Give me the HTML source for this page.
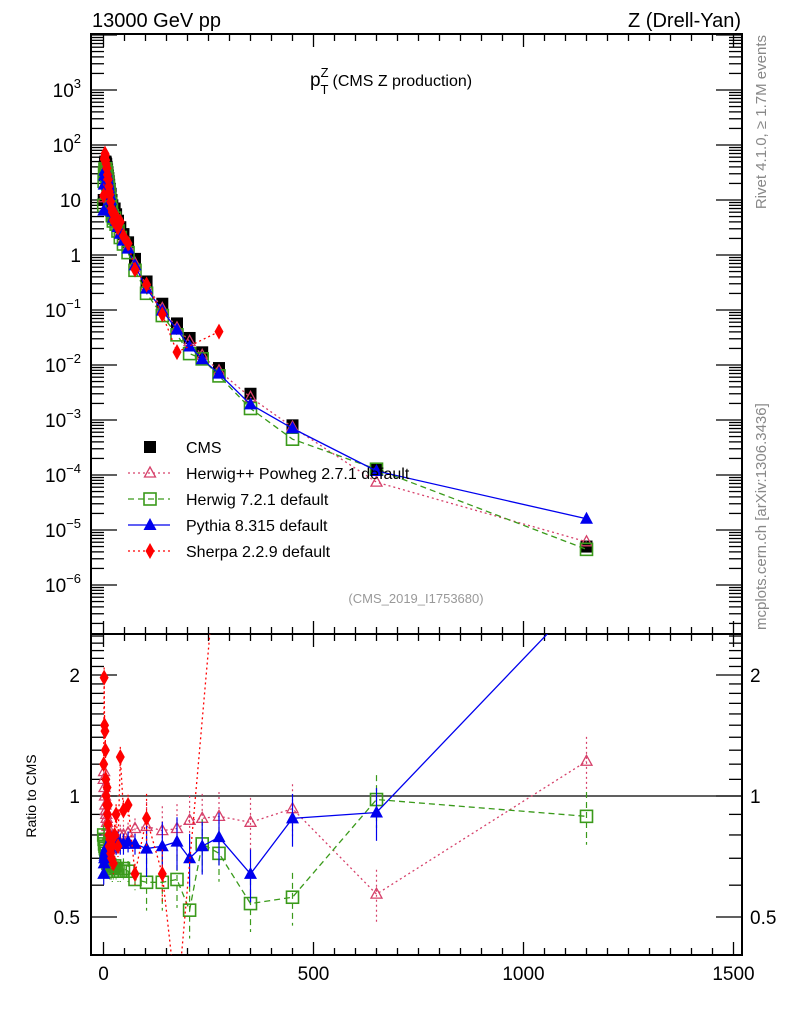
<!DOCTYPE html>
<html><head><meta charset="utf-8"><style>
html,body{margin:0;padding:0;background:#fff;}
svg{display:block;font-family:"Liberation Sans",sans-serif;}
</style></head><body>
<svg id="chart" width="786" height="1024" viewBox="0 0 786 1024" xmlns="http://www.w3.org/2000/svg">
<text x="92" y="27" font-size="20">13000 GeV pp</text>
<text x="741" y="27" font-size="20" text-anchor="end">Z (Drell-Yan)</text>
<text x="310" y="86" font-size="19">p<tspan font-size="13" dy="-9">Z</tspan><tspan font-size="13" dx="-8" dy="17">T</tspan><tspan font-size="16" dy="-8" dx="4">(CMS Z production)</tspan></text>
<text transform="translate(766,35) rotate(-90)" font-size="15" fill="#888" text-anchor="end">Rivet 4.1.0, ≥ 1.7M events</text>
<text transform="translate(766,630) rotate(-90)" font-size="15" fill="#888">mcplots.cern.ch [arXiv:1306.3436]</text>
<text x="416" y="603" font-size="13" fill="#999" text-anchor="middle">(CMS_2019_I1753680)</text>
<text transform="translate(36,796) rotate(-90)" font-size="14" text-anchor="middle">Ratio to CMS</text>
<g id="axes"></g>
<g id="marks"></g>
<g id="legend"></g>
</svg>
<script>
const pt = [0.5,1.5,2.5,3.5,4.5,5.5,6.5,7.5,8.5,9.5,10.5,11.5,12.5,13.5,15,17,19,21,23.5,26.5,30,34.5,40,47.5,58.5,75,102.5,140,175,205,235,275,350,450,650,1150];
const cms = [10,28,40,48,50,48,45,40,36,32,28,25,22,19,16,13,10,8,6.3,7,5.5,4.2,3.2,2.4,1.7,0.85,0.33,0.13,0.057,0.031,0.017,0.0088,0.003,0.0008,0.00013,0.000005];
const ratioPythia = [0.64,0.68,0.7,0.71,0.72,0.73,0.74,0.74,0.75,0.75,0.75,0.76,0.76,0.76,0.77,0.76,0.77,0.76,0.76,0.77,0.76,0.77,0.76,0.76,0.77,0.76,0.74,0.75,0.77,0.7,0.75,0.79,0.64,0.88,0.91,3.2];
const ratioHerwigPP = [1.1,1.15,1.05,1.0,0.95,0.92,0.9,0.88,0.86,0.84,0.82,0.8,0.8,0.78,0.77,0.76,0.75,0.74,0.74,0.75,0.76,0.78,0.8,0.8,0.81,0.83,0.84,0.82,0.83,0.87,0.88,0.89,0.86,0.93,0.57,1.22];
const ratioHerwig7 = [0.8,0.78,0.76,0.75,0.74,0.73,0.72,0.7,0.7,0.69,0.68,0.68,0.67,0.67,0.66,0.66,0.66,0.65,0.66,0.67,0.66,0.65,0.65,0.66,0.65,0.62,0.61,0.61,0.62,0.52,0.76,0.72,0.54,0.56,0.98,0.89];
const ratioSherpa = [1.2,1.97,1.5,1.45,1.3,1.1,1.0,0.95,1.05,0.9,0.85,0.95,0.8,0.75,0.78,0.72,0.7,0.75,0.68,0.8,0.9,0.75,1.25,0.92,0.95,0.64,0.88,0.64,0.3,null,null,4.6,null,null,null,null];
const xTicks = [0,500,1000,1500];
const upperTicks = [-6,-5,-4,-3,-2,-1,0,1,2,3];
const upperTickLabels = ["10","10","10","10","10","10","1","10","10","10"];
const upperTickExp = ["−6","−5","−4","−3","−2","−1","","","2","3"];
const ratioTicks = [0.5,1,2];
const ratioTickLabels = ["0.5","1","2"];

const NS="http://www.w3.org/2000/svg";
const L=91,R=742,T=34,M=634,B=955;
const sx=v=>103.5+v*0.42;
const sy=v=>255-55*Math.log10(v);
const sr=v=>796-402*Math.log10(v);
const axes=document.getElementById('axes'), marks=document.getElementById('marks'), legend=document.getElementById('legend');
function mk(tag,attrs,parent){const e=document.createElementNS(NS,tag);for(const k in attrs)e.setAttribute(k,attrs[k]);parent.appendChild(e);return e;}

let f1=mk('rect',{x:L,y:T,width:R-L,height:M-T,fill:'none',stroke:'#000','stroke-width':2},axes);


let f2=mk('rect',{x:L,y:M,width:R-L,height:B-M,fill:'none',stroke:'#000','stroke-width':2},axes);


for(let v=0;v<=1500;v+=50){
  const x=sx(v),len=(v%500===0)?13:7;
  for(const [y0,d] of [[T,1],[M,-1],[M,1],[B,-1]]) mk('line',{x1:x,x2:x,y1:y0,y2:y0+d*len,stroke:'#000','stroke-width':1.3},axes);
}
xTicks.forEach(v=>{const t=mk('text',{x:sx(v),y:980,'font-size':19,'text-anchor':'middle'},axes);t.textContent=v;

});
for(let d=-7;d<=4;d++){for(let m=1;m<10;m++){const v=m*Math.pow(10,d);const y=sy(v);if(y<T||y>M)continue;const len=m===1?26:13;
 mk('line',{x1:L,x2:L+len,y1:y,y2:y,stroke:'#000','stroke-width':1.3},axes);mk('line',{x1:R,x2:R-len,y1:y,y2:y,stroke:'#000','stroke-width':1.3},axes);}}
upperTicks.forEach((d,i)=>{const y=sy(Math.pow(10,d))+7;
 const t=mk('text',{x:81,y:y,'font-size':19,'text-anchor':'end'},axes);
 t.textContent=upperTickLabels[i];
 if(upperTickExp[i]){const s=mk('tspan',{dy:-9,'font-size':13},t);s.textContent=upperTickExp[i];}
 
 });
for(let v=0.4;v<2.6;v+=0.1){const y=sr(v);if(y<M||y>B)continue;const maj=Math.abs(v-0.5)<1e-6||Math.abs(v-1)<1e-6||Math.abs(v-2)<1e-6;const len=maj?26:13;
 mk('line',{x1:L,x2:L+len,y1:y,y2:y,stroke:'#000','stroke-width':1.3},axes);mk('line',{x1:R,x2:R-len,y1:y,y2:y,stroke:'#000','stroke-width':1.3},axes);}
ratioTicks.forEach((v,i)=>{for(const [x,a] of [[80,'end'],[750,'start']]){const t=mk('text',{x:x,y:sr(v)+7,'font-size':19,'text-anchor':a},axes);t.textContent=ratioTickLabels[i];
 
 }});
mk('line',{x1:L,x2:R,y1:sr(1),y2:sr(1),stroke:'#000','stroke-width':1.3},axes);

const series=[
 {name:'herwigpp',r:ratioHerwigPP,c:'#d6406a',dash:'2,3',mk:'tri-open'},
 {name:'herwig7',r:ratioHerwig7,c:'#3a9a1a',dash:'6,4',mk:'sq-open'},
 {name:'pythia',r:ratioPythia,c:'#0000ee',dash:'',mk:'tri'},
 {name:'sherpa',r:ratioSherpa,c:'#ff0000',dash:'2,3',mk:'dia'}
];
function marker(type,x,y,c,g){
 if(type==='sq')return mk('rect',{x:x-6,y:y-6,width:12,height:12,fill:'#000'},g);
 if(type==='sq-open')return mk('rect',{x:x-6,y:y-6,width:12,height:12,fill:'none',stroke:c,'stroke-width':1.6},g);
 if(type==='tri')return mk('path',{d:`M${x},${y-7}L${x+6.5},${y+5}L${x-6.5},${y+5}Z`,fill:c},g);
 if(type==='tri-open')return mk('path',{d:`M${x},${y-6}L${x+5.5},${y+4}L${x-5.5},${y+4}Z`,fill:'none',stroke:c,'stroke-width':1.3},g);
 if(type==='dia')return mk('path',{d:`M${x},${y-8}L${x+4.5},${y}L${x},${y+8}L${x-4.5},${y}Z`,fill:c},g);
}
function clipY(y,lo,hi){return Math.max(lo,Math.min(hi,y));}
const gc=mk('g',{},marks);


pt.forEach((p,i)=>{const m=marker('sq',sx(p),sy(cms[i]),'#000',gc);
 
 });
series.forEach(s=>{
 const gu=mk('g',{},marks);
 
 
 const gl=mk('g',{},marks);
 
 
 let pu=[],pl=[];
 pt.forEach((p,i)=>{const r=s.r[i];if(r==null)return;pu.push([sx(p),sy(cms[i]*r)]);pl.push([sx(p),sr(r)]);});
 mk('polyline',{points:pu.map(q=>q.join(',')).join(' '),fill:'none',stroke:s.c,'stroke-width':1.3,'stroke-dasharray':s.dash},gu);
 const cp=mk('clipPath',{id:'cp'+s.name},gl);mk('rect',{x:L,y:M,width:R-L,height:B-M},cp);
 mk('polyline',{points:pl.map(q=>q.join(',')).join(' '),fill:'none',stroke:s.c,'stroke-width':1.3,'stroke-dasharray':s.dash,'clip-path':`url(#cp${s.name})`},gl);
 pt.forEach((p,i)=>{const r=s.r[i];if(r==null)return;const x=sx(p);
  const e=i>=26?0.15:0.06;
  const yl=sr(r);
  if(yl>M&&yl<B){mk('line',{x1:x,x2:x,y1:clipY(sr(r*(1+e)),M,B),y2:clipY(sr(r*(1-e)),M,B),stroke:s.c,'stroke-width':1.2,'stroke-dasharray':s.dash},gl);
   const m=marker(s.mk,x,yl,s.c,gl);
   
   }
  const yu=sy(cms[i]*r);
  if(yu<M){const m=marker(s.mk,x,yu,s.c,gu);
   
   }
 });
});
const labels=['CMS','Herwig++ Powheg 2.7.1 default','Herwig 7.2.1 default','Pythia 8.315 default','Sherpa 2.2.9 default'];
const lm=['sq','tri-open','sq-open','tri','dia'];
const lc=['#000','#d6406a','#3a9a1a','#0000ee','#ff0000'];
const ld=[null,'2,3','6,4','','2,3'];
labels.forEach((lab,i)=>{const y=447+i*26;const g=mk('g',{},legend);
 
 
 if(ld[i]!==null)mk('line',{x1:128,x2:170,y1:y,y2:y,stroke:lc[i],'stroke-width':1.3,'stroke-dasharray':ld[i]},g);
 marker(lm[i],150,y,lc[i],g);
 const t=mk('text',{x:186,y:y+6,'font-size':16},g);t.textContent=lab;});
</script>
</body></html>
